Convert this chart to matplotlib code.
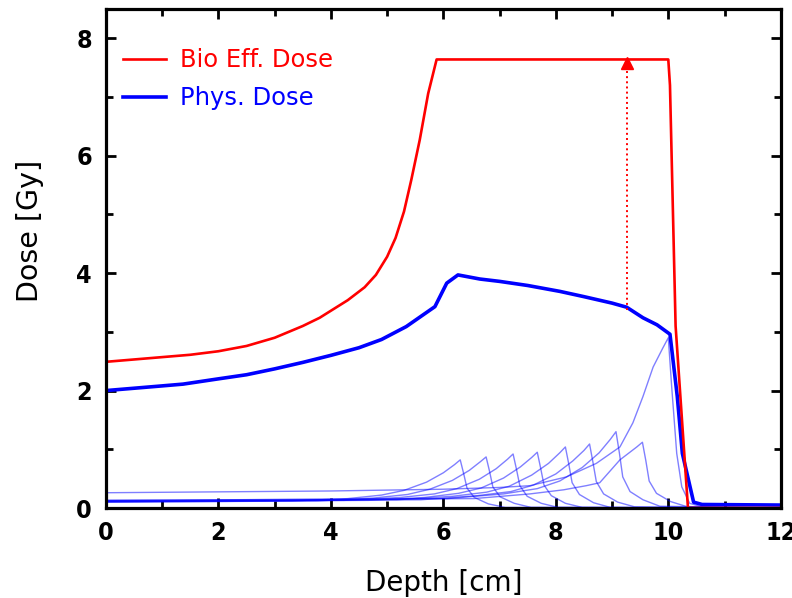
import matplotlib
matplotlib.use("Agg")
import matplotlib.pyplot as plt
from matplotlib.ticker import MultipleLocator

# biologically effective dose (red)
bioDepth = [0.0, 0.5, 1.0, 1.5, 2.0, 2.5, 3.0, 3.5, 3.8, 4.0, 4.3, 4.6, 4.8, 5.0, 5.15,
            5.3, 5.43, 5.58, 5.73, 5.88, 10.0, 10.03, 10.13, 10.35, 12.0]
bioDose = [2.49, 2.53, 2.57, 2.61, 2.67, 2.76, 2.90, 3.10, 3.24, 3.36, 3.54, 3.76, 3.97, 4.28, 4.60,
           5.05, 5.59, 6.27, 7.06, 7.64, 7.64, 7.20, 3.10, 0.0, 0.0]

# physical dose (blue, thick)
physDepth = [0.0, 0.5, 1.0, 1.37, 2.0, 2.5, 3.0, 3.5, 4.0, 4.5, 4.9, 5.34, 5.64, 5.85,
             6.06, 6.26, 6.65, 7.0, 7.5, 8.07, 8.5, 9.0, 9.26, 9.55, 9.8, 10.03,
             10.16, 10.25, 10.45, 10.6, 12.0]
physDose = [2.00, 2.04, 2.08, 2.11, 2.20, 2.27, 2.37, 2.48, 2.60, 2.73, 2.87, 3.09, 3.29, 3.43,
            3.83, 3.97, 3.90, 3.86, 3.79, 3.69, 3.60, 3.49, 3.42, 3.24, 3.12, 2.96,
            1.90, 0.93, 0.10, 0.06, 0.05]

# individual pristine peaks (thin blue)
peak1Depth = [0, 3.3, 4.3, 4.9, 5.3, 5.7, 6.0, 6.2, 6.30, 6.36, 6.42, 6.55, 6.8, 7.1, 12]
peak1Dose = [0.10, 0.12, 0.16, 0.22, 0.30, 0.44, 0.60, 0.74, 0.82, 0.59, 0.34, 0.18, 0.07, 0.01, 0.0]
peak2Depth = [0, 3.76, 4.76, 5.36, 5.76, 6.16, 6.46, 6.66, 6.76, 6.82, 6.88, 7.01, 7.26, 7.56, 12]
peak2Dose = [0.10, 0.12, 0.17, 0.23, 0.32, 0.47, 0.64, 0.79, 0.87, 0.63, 0.36, 0.19, 0.08, 0.01, 0.0]
peak3Depth = [0, 4.24, 5.24, 5.84, 6.24, 6.64, 6.94, 7.14, 7.24, 7.30, 7.36, 7.49, 7.74, 8.04, 12]
peak3Dose = [0.11, 0.13, 0.18, 0.24, 0.33, 0.49, 0.67, 0.83, 0.92, 0.66, 0.38, 0.20, 0.08, 0.01, 0.0]
peak4Depth = [0, 4.67, 5.67, 6.27, 6.67, 7.07, 7.37, 7.57, 7.67, 7.73, 7.79, 7.92, 8.17, 8.47, 12]
peak4Dose = [0.11, 0.13, 0.18, 0.25, 0.34, 0.51, 0.70, 0.86, 0.95, 0.68, 0.39, 0.21, 0.08, 0.01, 0.0]
peak5Depth = [0, 5.17, 6.17, 6.77, 7.17, 7.57, 7.87, 8.07, 8.17, 8.23, 8.29, 8.42, 8.67, 8.97, 12]
peak5Dose = [0.12, 0.14, 0.20, 0.27, 0.37, 0.56, 0.76, 0.94, 1.04, 0.75, 0.43, 0.23, 0.09, 0.01, 0.0]
peak6Depth = [0, 5.6, 6.6, 7.2, 7.6, 8.0, 8.3, 8.5, 8.60, 8.66, 8.72, 8.85, 9.1, 9.4, 12]
peak6Dose = [0.12, 0.14, 0.21, 0.28, 0.39, 0.58, 0.80, 0.98, 1.09, 0.78, 0.45, 0.24, 0.10, 0.02, 0.0]
peak7Depth = [0, 6.07, 7.07, 7.67, 8.07, 8.47, 8.77, 8.97, 9.07, 9.13, 9.19, 9.32, 9.55, 9.85, 12]
peak7Dose = [0.13, 0.16, 0.24, 0.33, 0.46, 0.69, 0.94, 1.17, 1.30, 0.94, 0.53, 0.28, 0.14, 0.03, 0.0]
peak8Depth = [0, 6.54, 7.54, 8.14, 8.54, 8.78, 9.14, 9.44, 9.54, 9.60, 9.66, 9.79, 10.04, 10.34, 12]
peak8Dose = [0.13, 0.16, 0.24, 0.31, 0.38, 0.43, 0.82, 1.04, 1.12, 0.81, 0.46, 0.25, 0.11, 0.02, 0.0]
peak9Depth = [0, 4.0, 6.0, 7.0, 7.54, 8.19, 8.72, 9.14, 9.37, 9.55, 9.73, 9.9, 10.0, 10.06,
              10.15, 10.24, 10.38, 10.6, 12]
peak9Dose = [0.26, 0.29, 0.32, 0.35, 0.38, 0.53, 0.76, 1.04, 1.45, 1.90, 2.40, 2.72, 2.90, 2.07,
             0.93, 0.36, 0.08, 0.02, 0.0]

peaks = [(peak1Depth, peak1Dose), (peak2Depth, peak2Dose), (peak3Depth, peak3Dose),
         (peak4Depth, peak4Dose), (peak5Depth, peak5Dose), (peak6Depth, peak6Dose),
         (peak7Depth, peak7Dose), (peak8Depth, peak8Dose), (peak9Depth, peak9Dose)]

# dotted marker showing bio dose vs phys dose at one depth
arrowDepth = 9.27
arrowFrom = 3.38
arrowTo = 7.58

fig = plt.figure(figsize=(7.92, 5.98), dpi=100)
ax = fig.add_axes([0.1338, 0.1505, 0.852, 0.8345])

for d, y in peaks:
    ax.plot(d, y, color='#0000ff', lw=1.0, alpha=0.5)

ax.plot(physDepth, physDose, color='#0000ff', lw=2.6, label='Phys. Dose')
ax.plot(bioDepth, bioDose, color='#ff0000', lw=1.9, label='Bio Eff. Dose')

ax.plot([arrowDepth, arrowDepth], [arrowFrom, arrowTo], ':', color='#ff0000', lw=1.4)
ax.plot([arrowDepth], [arrowTo], marker='^', color='#ff0000', markersize=8, ls='none')

ax.set_xlim(0, 12)
ax.set_ylim(0, 8.5)
ax.xaxis.set_major_locator(MultipleLocator(2))
ax.xaxis.set_minor_locator(MultipleLocator(1))
ax.yaxis.set_major_locator(MultipleLocator(2))
ax.yaxis.set_minor_locator(MultipleLocator(1))
ax.tick_params(which='both', direction='in', top=True, right=True, width=2.0, color='black')
ax.tick_params(which='major', length=7.5)
ax.tick_params(which='minor', length=5)
ax.tick_params(axis='x', which='major', pad=9)
ax.tick_params(axis='y', which='major', pad=10)
for lab in ax.get_xticklabels() + ax.get_yticklabels():
    lab.set_family('DejaVu Sans')
    lab.set_fontstretch('condensed')
    lab.set_fontweight('bold')
    lab.set_fontsize(18)
for s in ax.spines.values():
    s.set_linewidth(2.3)

ax.set_xlabel('Depth [cm]', fontsize=20)
ax.set_ylabel('Dose [Gy]', fontsize=20.5)
ax.xaxis.set_label_coords(0.5, -0.122)
ax.yaxis.set_label_coords(-0.092, 0.555)

h, l = ax.get_legend_handles_labels()
leg = ax.legend(h[::-1], l[::-1], loc='upper left', bbox_to_anchor=(0.0, 0.955),
                frameon=False, fontsize=17.5, handlelength=1.75, handletextpad=0.6,
                labelspacing=0.57, borderaxespad=0.3)
for txt, c in zip(leg.get_texts(), ['#ff0000', '#0000ff']):
    txt.set_color(c)

fig.savefig('out.png', dpi=100)
